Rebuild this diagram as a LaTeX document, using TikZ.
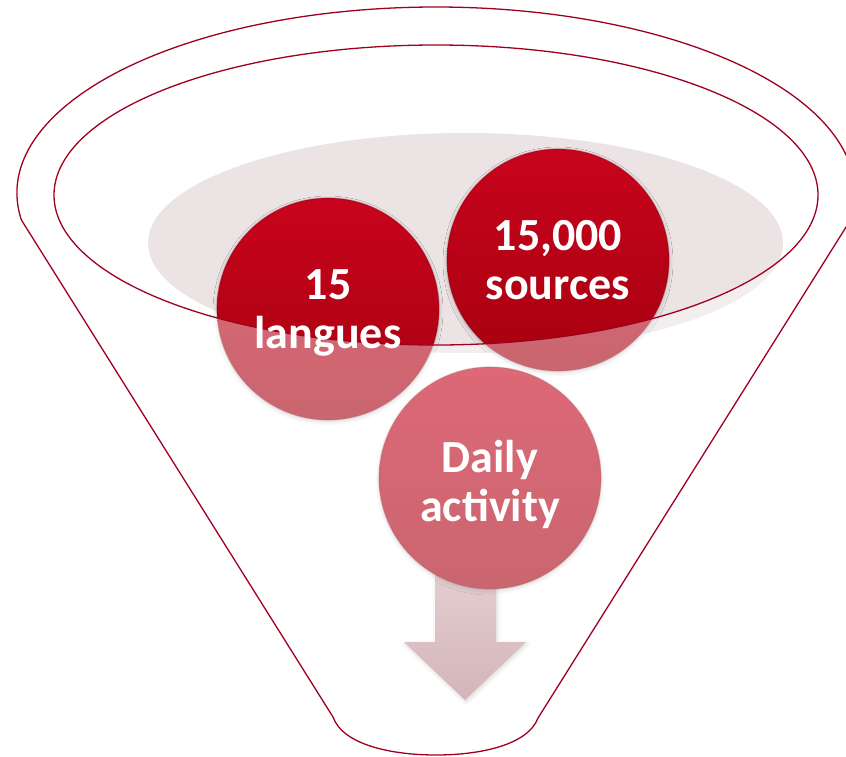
\documentclass[tikz,border=0pt]{standalone}
\usepackage{fontspec}
\setmainfont{Carlito}
\usetikzlibrary{shadows.blur}

\definecolor{rimred}{HTML}{A00020}
\definecolor{bowlgray}{HTML}{ECE3E4}
\definecolor{balltop}{HTML}{C8041D}
\definecolor{ballbot}{HTML}{A6000F}
\definecolor{arrowtop}{HTML}{D5B1B6}
\definecolor{arrowbot}{HTML}{B7848A}

\tikzset{
  ball/.style={circle, minimum size=222pt, inner sep=0pt,
    top color=balltop, bottom color=ballbot,
    draw=ballbot!80!black, draw opacity=0.35, line width=1.2pt,
    blur shadow={shadow xshift=0pt, shadow yshift=-2pt, shadow blur radius=4pt, shadow opacity=25}},
  balltext/.style={text=white, font=\bfseries\fontsize{46}{49}\selectfont, align=center, text depth=0pt},
  rim/.style={draw=rimred, line width=1.3pt},
  funnelshape/.style={insert path={
    (21.4,220) arc[start angle=171.65, end angle=368.35, x radius=419, y radius=186]
    -- (538,718) .. controls (528,745) and (480,755) .. (436,755)
    .. controls (392,755) and (343,745) .. (333,717) -- cycle}}
}

\begin{document}
\begin{tikzpicture}[x=1pt, y=-1pt]
  \clip (0,0) rectangle (846,756);

  % soft floor of the bowl
  \fill[bowlgray] (465.5,243) ellipse[x radius=317.5, y radius=110];

  % the two balls resting in the bowl
  \node[ball] (langues) at (328,309) {};
  \node[ball] (sources) at (558,260) {};

  % outlet arrow below the last ball
  \path[top color=arrowtop, bottom color=arrowbot,
        blur shadow={shadow xshift=1pt, shadow yshift=-2pt, shadow blur radius=4pt, shadow opacity=25}]
    (435,560) -- (496,560) -- (496,642) -- (526,642) -- (465,700)
    -- (404,642) -- (435,642) -- cycle;

  \node[ball] (daily) at (490,478) {};

  % translucent wall of the funnel, open at the rim
  \fill[white, opacity=0.4, even odd rule, funnelshape]
    (436,195) ellipse[x radius=382, y radius=150];

  % outlines
  \draw[rim, funnelshape];
  \draw[rim] (436,195) ellipse[x radius=382, y radius=150];

  % labels
  \node[balltext] (t1) at (langues.center) {15\\langues};
  \node[balltext] (t2) at (sources.center) {15,000\\sources};
  \node[balltext] (t3) at ([yshift=-3pt]daily.center) {Daily\\activity};
\end{tikzpicture}
\end{document}
